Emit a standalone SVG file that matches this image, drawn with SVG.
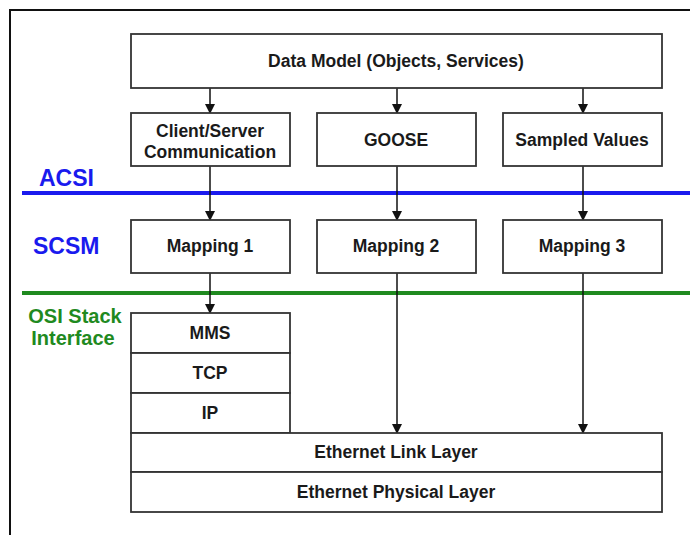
<svg xmlns="http://www.w3.org/2000/svg" width="690" height="535" viewBox="0 0 690 535">
<defs>
<marker id="ah" markerWidth="10" markerHeight="10" refX="9" refY="5" orient="auto" markerUnits="userSpaceOnUse">
<path d="M0,0 L10,5 L0,10 Z" fill="#111"/>
</marker>
<style>
.box{fill:#fff;stroke:#333;stroke-width:1.8}
.t{font-family:"Liberation Sans",Arial,sans-serif;font-weight:bold;font-size:17.5px;fill:#1a1a1a;text-anchor:middle}
.c{stroke:#111;stroke-width:1.5;fill:none;marker-end:url(#ah)}
.lbl{font-family:"Liberation Sans",Arial,sans-serif;font-weight:bold}
</style>
</defs>
<rect width="690" height="535" fill="#fff"/>
<path d="M10,535 V10 H690" fill="none" stroke="#111" stroke-width="2"/>
<line x1="22" y1="193" x2="690" y2="193" stroke="#1a1aee" stroke-width="4"/>
<line x1="22" y1="293" x2="690" y2="293" stroke="#1f8a1f" stroke-width="4"/>
<text class="lbl" x="39" y="186" font-size="23" fill="#1a1aee">ACSI</text>
<text class="lbl" x="33" y="254" font-size="23" fill="#1a1aee">SCSM</text>
<text class="lbl" x="75" y="323" font-size="20" fill="#1f8a1f" text-anchor="middle">OSI Stack</text>
<text class="lbl" x="73" y="345" font-size="20" fill="#1f8a1f" text-anchor="middle">Interface</text>
<g id="connectors">
<line class="c" x1="210" y1="88" x2="210" y2="113"/>
<line class="c" x1="397" y1="88" x2="397" y2="113"/>
<line class="c" x1="583" y1="88" x2="583" y2="113"/>
<line class="c" x1="210" y1="166" x2="210" y2="220"/>
<line class="c" x1="397" y1="166" x2="397" y2="220"/>
<line class="c" x1="583" y1="166" x2="583" y2="220"/>
<line class="c" x1="210" y1="273" x2="210" y2="313"/>
<line class="c" x1="397" y1="273" x2="397" y2="433"/>
<line class="c" x1="583" y1="273" x2="583" y2="433"/>
</g>
<g id="datamodel"><rect class="box" x="131" y="34" width="531" height="54"/><text class="t" x="396" y="67">Data Model (Objects, Services)</text></g>
<g id="clientserver"><rect class="box" x="131" y="113" width="159" height="53"/><text class="t" x="210" y="137">Client/Server</text><text class="t" x="210" y="158">Communication</text></g>
<g id="goose"><rect class="box" x="317" y="113" width="159" height="53"/><text class="t" x="396" y="146">GOOSE</text></g>
<g id="sampled"><rect class="box" x="503" y="113" width="159" height="53"/><text class="t" x="582" y="146">Sampled Values</text></g>
<g id="mapping1"><rect class="box" x="131" y="220" width="159" height="53"/><text class="t" x="210" y="252">Mapping 1</text></g>
<g id="mapping2"><rect class="box" x="317" y="220" width="159" height="53"/><text class="t" x="396" y="252">Mapping 2</text></g>
<g id="mapping3"><rect class="box" x="503" y="220" width="159" height="53"/><text class="t" x="582" y="252">Mapping 3</text></g>
<g id="mms"><rect class="box" x="131" y="313" width="159" height="40"/><text class="t" x="210" y="339">MMS</text></g>
<g id="tcp"><rect class="box" x="131" y="353" width="159" height="40"/><text class="t" x="210" y="379">TCP</text></g>
<g id="ip"><rect class="box" x="131" y="393" width="159" height="40"/><text class="t" x="210" y="419">IP</text></g>
<g id="ethlink"><rect class="box" x="131" y="433" width="531" height="39"/><text class="t" x="396" y="458">Ethernet Link Layer</text></g>
<g id="ethphys"><rect class="box" x="131" y="472" width="531" height="40"/><text class="t" x="396" y="498">Ethernet Physical Layer</text></g>
</svg>
